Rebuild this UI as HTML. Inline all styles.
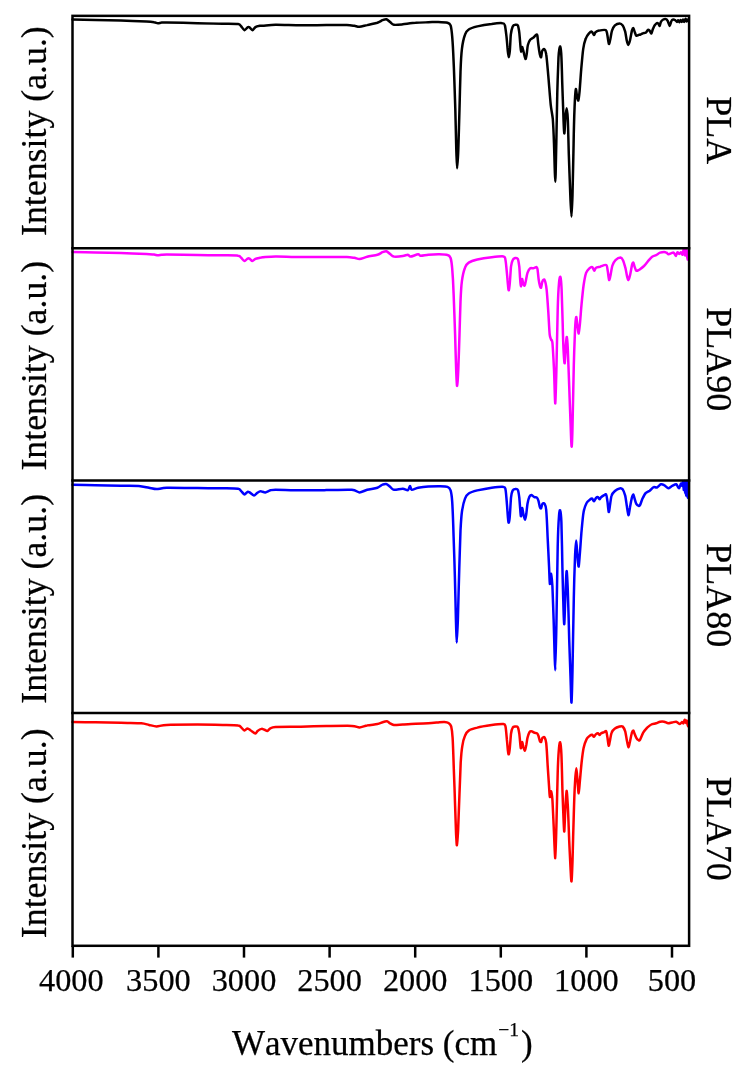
<!DOCTYPE html>
<html><head><meta charset="utf-8"><title>FTIR spectra</title>
<style>html,body{margin:0;padding:0;background:#fff}svg{display:block}</style></head>
<body>
<svg width="746" height="1070" viewBox="0 0 746 1070">
<rect width="746" height="1070" fill="#fff"/>
<path fill="none" stroke="#000000" stroke-width="2.5" stroke-linejoin="round" stroke-linecap="round" d="M72.5,19.6C75.6,19.6 89.0,19.8 95.5,20.0C101.9,20.1 114.2,20.4 120.9,20.6C127.7,20.8 142.0,21.3 146.4,21.5C150.8,21.7 152.5,22.0 154.1,22.3C155.6,22.5 156.9,23.2 157.9,23.3C158.9,23.3 160.5,22.7 161.7,22.6C162.9,22.5 162.0,22.5 166.8,22.5C171.5,22.6 189.9,23.0 197.4,23.2C204.8,23.3 217.4,23.5 222.8,23.7C228.3,23.8 235.7,23.7 238.1,24.0C240.6,24.4 240.3,25.5 241.2,26.3C242.0,27.2 243.6,30.0 244.5,30.2C245.3,30.3 246.9,27.7 247.5,27.4C248.2,27.0 248.9,27.0 249.6,27.4C250.2,27.7 251.6,30.2 252.4,30.2C253.2,30.1 254.4,27.7 255.4,27.1C256.4,26.5 259.0,26.0 260.0,25.8C261.0,25.7 260.7,26.0 262.7,25.8C264.8,25.7 270.4,24.9 275.5,24.8C280.6,24.7 294.2,25.3 300.9,25.3C307.7,25.4 320.3,25.1 326.4,25.1C332.5,25.0 343.1,25.0 346.8,25.1C350.5,25.2 352.7,25.6 354.4,25.8C356.1,26.1 357.8,27.0 359.5,26.8C361.2,26.7 364.8,25.6 367.2,25.1C369.5,24.5 375.3,23.4 377.4,22.8C379.4,22.1 381.3,20.7 382.5,20.2C383.6,19.8 385.3,19.0 386.3,19.2C387.3,19.4 389.1,21.3 390.1,22.0C391.1,22.8 392.2,24.5 393.9,24.8C395.6,25.1 399.9,24.6 402.8,24.3C405.7,24.0 412.2,23.0 415.6,22.8C419.0,22.5 425.3,22.4 428.3,22.3C431.3,22.2 435.7,21.9 438.2,21.9C440.8,22.0 445.8,22.3 447.5,22.7C449.1,23.2 449.9,23.6 450.6,25.4C451.2,27.3 451.8,31.9 452.2,36.7C452.6,41.5 453.2,51.8 453.6,61.4C454.1,71.0 454.9,96.9 455.3,108.7C455.6,120.5 456.1,141.9 456.3,149.8C456.6,157.8 456.9,168.3 457.1,168.3C457.4,168.3 458.0,157.8 458.3,149.8C458.6,141.9 459.2,119.1 459.5,108.7C459.8,98.3 460.2,79.6 460.5,71.7C460.8,63.7 461.3,54.0 461.9,49.1C462.5,44.1 464.0,37.3 465.0,34.7C465.9,32.1 467.0,30.6 468.7,29.5C470.3,28.4 474.2,27.2 477.3,26.4C480.4,25.7 488.3,24.4 491.7,24.0C495.0,23.5 500.6,23.0 502.4,23.2C504.2,23.3 504.3,23.6 504.9,25.4C505.4,27.2 506.1,33.3 506.5,36.7C506.9,40.2 507.5,48.4 507.8,51.1C508.1,53.9 508.5,57.3 508.8,57.3C509.1,57.3 509.5,54.1 509.8,51.1C510.1,48.1 510.5,38.0 510.8,34.7C511.2,31.4 512.1,27.8 512.7,26.4C513.3,25.1 514.5,24.9 515.2,24.8C515.8,24.7 517.3,24.4 517.8,25.4C518.4,26.5 518.9,29.7 519.3,32.6C519.6,35.5 520.3,44.4 520.5,47.0C520.7,49.6 520.9,52.1 521.1,52.1C521.3,52.1 521.8,47.1 522.1,47.0C522.4,46.9 522.9,49.5 523.4,51.1C523.8,52.7 525.0,58.5 525.4,58.9C525.9,59.3 526.3,56.1 526.7,54.2C527.0,52.3 527.4,46.9 527.9,45.0C528.4,43.0 529.4,40.8 530.2,39.8C530.9,38.9 532.4,38.4 533.2,37.8C534.1,37.1 535.8,34.9 536.3,34.7C536.9,34.4 537.1,34.3 537.4,35.7C537.6,37.1 538.1,42.5 538.4,45.0C538.7,47.4 539.5,52.6 539.8,54.2C540.2,55.8 540.8,57.7 541.1,57.3C541.4,56.9 541.7,52.2 542.1,51.1C542.5,50.0 543.6,48.7 544.2,49.1C544.7,49.5 545.7,50.6 546.2,54.2C546.8,57.8 547.7,69.1 548.3,75.8C548.9,82.5 550.1,98.8 550.7,104.6C551.3,110.3 552.3,113.8 552.8,119.0C553.2,124.2 553.7,135.3 554.0,143.6C554.3,152.0 555.0,181.7 555.3,181.7C555.6,181.7 556.0,155.6 556.3,143.6C556.6,131.7 557.0,103.8 557.3,92.2C557.6,80.7 558.2,63.4 558.5,57.3C558.9,51.2 559.6,47.1 560.0,46.6C560.3,46.0 560.9,48.5 561.2,53.2C561.5,57.9 562.0,74.0 562.2,82.0C562.5,89.9 563.0,105.9 563.3,112.8C563.5,119.6 564.0,132.5 564.3,133.4C564.6,134.2 565.0,122.3 565.3,119.0C565.6,115.6 566.2,108.3 566.6,108.3C566.9,108.3 567.5,112.9 567.8,119.0C568.1,125.0 568.5,143.8 568.8,153.9C569.2,164.1 569.9,186.7 570.3,195.0C570.6,203.4 571.2,216.6 571.5,216.6C571.8,216.6 572.2,204.8 572.5,195.0C572.8,185.3 573.3,155.4 573.6,143.6C573.8,131.8 574.3,113.9 574.6,106.6C574.9,99.4 575.5,90.5 575.8,89.2C576.1,87.8 576.7,94.8 577.0,96.3C577.4,97.9 578.0,101.0 578.3,100.5C578.6,99.9 579.1,96.3 579.5,92.2C579.9,88.1 580.7,75.4 581.2,69.6C581.7,63.9 582.6,53.2 583.2,49.1C583.8,45.0 584.9,40.8 585.7,38.8C586.4,36.7 587.9,34.6 588.8,33.6C589.6,32.7 591.2,31.4 591.8,31.6C592.5,31.8 593.4,35.0 593.9,35.1C594.4,35.2 594.9,32.8 595.5,32.2C596.2,31.6 597.7,30.8 599.0,30.6C600.4,30.3 604.7,29.6 605.8,30.1C606.9,30.7 606.9,32.8 607.3,34.7C607.7,36.5 608.5,43.4 608.9,43.9C609.3,44.5 609.9,40.6 610.4,38.8C610.8,37.0 611.4,32.3 612.0,30.6C612.6,28.8 613.9,26.4 614.9,25.4C615.9,24.5 618.6,23.4 619.6,23.4C620.6,23.4 621.9,24.3 622.7,25.4C623.4,26.5 624.6,29.5 625.2,31.6C625.7,33.6 626.4,39.1 626.8,40.8C627.2,42.6 627.8,45.0 628.2,45.0C628.6,45.0 629.4,42.8 629.9,40.8C630.4,38.9 631.5,32.3 631.9,30.6C632.4,28.9 633.0,28.0 633.4,28.1C633.7,28.2 634.2,30.6 634.6,31.6C635.0,32.6 635.7,35.3 636.3,35.7C636.9,36.1 638.6,34.8 639.1,34.7C639.6,34.5 639.5,35.0 640.0,34.8C640.5,34.6 642.5,33.4 643.2,33.2C644.0,32.9 645.0,33.2 645.6,32.8C646.3,32.3 647.5,30.2 648.0,29.9C648.6,29.7 649.2,30.3 649.7,30.7C650.1,31.2 650.8,33.8 651.3,33.6C651.7,33.3 652.4,30.3 652.9,29.1C653.4,28.0 654.3,25.9 654.9,25.1C655.4,24.3 656.4,23.3 656.9,23.1C657.4,22.9 658.1,23.5 658.5,23.9C658.9,24.3 659.4,26.2 659.7,25.9C660.0,25.6 660.4,22.8 660.9,21.9C661.4,21.0 662.6,19.9 663.3,19.5C664.0,19.1 665.6,18.9 666.1,19.1C666.7,19.3 667.3,20.2 667.8,21.1C668.2,22.0 669.3,25.9 669.8,25.9C670.2,25.9 670.9,21.9 671.4,21.1C671.8,20.2 672.4,19.6 673.0,19.5C673.5,19.4 674.9,20.0 675.4,20.3C675.9,20.6 676.6,21.9 677.0,21.9C677.4,21.9 677.9,20.2 678.2,20.3C678.5,20.3 679.1,22.4 679.4,22.3C679.7,22.2 680.3,19.9 680.6,19.9C680.9,19.8 681.5,21.9 681.8,21.9C682.2,21.8 682.7,19.5 683.0,19.5C683.4,19.5 683.9,22.0 684.2,21.9C684.6,21.8 685.1,18.7 685.5,18.7C685.8,18.6 686.3,21.4 686.7,21.5C687.0,21.6 687.7,19.7 687.9,19.5"/>
<path fill="none" stroke="#ff00ff" stroke-width="2.5" stroke-linejoin="round" stroke-linecap="round" d="M72.5,252.0C75.6,252.1 89.0,252.5 95.5,252.6C101.9,252.8 114.2,252.9 120.9,253.1C127.7,253.3 142.0,253.9 146.4,254.1C150.8,254.3 152.5,254.5 154.1,254.6C155.6,254.8 156.9,255.3 157.9,255.3C158.9,255.3 160.5,254.9 161.7,254.8C162.9,254.7 162.0,254.5 166.8,254.5C171.5,254.6 189.9,254.9 197.4,255.0C204.8,255.1 217.4,255.2 222.8,255.3C228.3,255.4 235.7,255.3 238.1,255.7C240.6,256.0 240.3,257.1 241.2,257.8C242.0,258.5 243.6,260.9 244.5,261.0C245.3,261.1 246.9,258.9 247.5,258.6C248.2,258.3 248.9,258.3 249.6,258.6C250.2,258.9 251.6,261.0 252.4,261.0C253.2,261.0 254.4,259.3 255.4,258.8C256.4,258.4 259.0,258.0 260.0,257.8C261.0,257.6 260.7,257.5 262.7,257.3C264.8,257.2 270.4,256.6 275.5,256.6C280.6,256.5 294.2,257.0 300.9,257.1C307.7,257.1 320.3,257.1 326.4,257.1C332.5,257.1 343.1,257.0 346.8,257.1C350.5,257.2 352.7,257.6 354.4,257.8C356.1,258.1 357.8,259.2 359.5,259.1C361.2,259.0 364.8,257.4 367.2,256.8C369.5,256.2 375.3,255.4 377.4,254.8C379.4,254.2 381.3,252.7 382.5,252.2C383.6,251.8 385.3,251.0 386.3,251.2C387.3,251.4 389.1,253.3 390.1,254.0C391.1,254.7 392.2,256.3 393.9,256.6C395.6,256.8 401.0,256.3 402.8,256.0C404.7,255.8 406.9,254.7 407.9,254.8C408.9,254.8 409.1,256.6 410.5,256.6C411.8,256.5 416.8,254.4 418.1,254.3C419.5,254.2 419.3,255.7 420.7,255.8C422.0,255.9 426.0,255.0 428.3,254.8C430.6,254.6 435.7,254.3 438.2,254.3C440.8,254.4 445.8,254.5 447.5,255.0C449.1,255.4 449.9,256.2 450.6,258.0C451.2,259.9 451.8,264.0 452.2,268.7C452.6,273.4 453.3,284.6 453.6,293.4C454.0,302.2 454.7,323.8 455.1,334.5C455.4,345.2 456.0,366.7 456.3,373.6C456.6,380.4 456.9,386.5 457.1,385.9C457.4,385.4 458.0,376.3 458.3,369.5C458.6,362.6 459.2,343.6 459.5,334.5C459.8,325.5 460.2,308.7 460.5,301.6C460.8,294.5 461.3,285.6 461.9,281.1C462.5,276.5 464.0,270.2 465.0,267.7C465.9,265.2 467.0,263.7 468.7,262.6C470.3,261.5 474.2,260.2 477.3,259.5C480.4,258.8 488.2,257.6 491.7,257.2C495.2,256.8 501.6,256.2 503.4,256.4C505.2,256.6 504.8,256.9 505.3,258.9C505.7,260.8 506.4,267.3 506.7,270.8C507.1,274.3 507.7,282.6 508.0,285.2C508.2,287.8 508.5,290.6 508.8,290.3C509.0,290.0 509.5,286.3 509.8,283.1C510.1,280.0 510.7,269.7 511.0,266.7C511.4,263.6 512.1,261.2 512.7,260.1C513.2,258.9 514.5,258.2 515.2,258.0C515.8,257.9 517.3,257.7 517.8,258.9C518.4,260.0 518.9,263.7 519.3,266.7C519.6,269.6 520.0,278.5 520.3,281.1C520.5,283.7 520.9,286.5 521.1,286.2C521.4,285.9 521.8,279.3 522.1,279.0C522.4,278.7 523.0,283.3 523.4,284.1C523.7,285.0 524.3,286.0 524.6,285.6C524.9,285.2 525.5,282.8 525.8,281.1C526.2,279.4 526.9,274.5 527.5,272.8C528.1,271.1 529.4,268.9 530.2,268.3C530.9,267.7 532.4,268.5 533.2,268.3C534.1,268.2 536.2,266.9 536.7,267.1C537.3,267.3 537.3,268.2 537.6,269.8C537.8,271.3 538.3,276.8 538.6,279.0C538.9,281.2 539.7,285.1 540.0,286.2C540.4,287.4 540.7,288.3 541.1,287.6C541.4,287.0 542.0,282.1 542.5,281.1C543.0,280.0 544.0,278.9 544.6,280.0C545.1,281.1 546.1,285.0 546.6,289.3C547.1,293.5 547.9,305.9 548.3,311.9C548.7,317.9 549.3,330.8 549.7,334.5C550.1,338.2 550.8,338.6 551.1,339.7C551.5,340.8 552.0,338.8 552.4,342.7C552.8,346.7 553.6,361.4 554.0,369.5C554.4,377.6 554.9,403.9 555.3,403.4C555.6,402.8 556.2,377.8 556.5,365.4C556.8,352.9 557.4,320.8 557.7,309.8C558.0,298.9 558.6,287.5 559.0,283.1C559.3,278.7 560.0,276.1 560.4,277.0C560.7,277.8 561.3,283.0 561.6,289.3C561.9,295.6 562.4,315.7 562.7,324.2C562.9,332.7 563.4,347.8 563.7,353.0C564.0,358.2 564.4,364.1 564.7,363.3C565.0,362.5 565.5,350.4 565.7,346.9C566.0,343.3 566.5,336.7 566.8,337.0C567.0,337.3 567.5,342.4 567.8,348.9C568.1,355.4 568.8,375.5 569.2,385.9C569.6,396.3 570.3,418.9 570.7,427.0C571.0,435.1 571.4,447.9 571.7,446.6C572.0,445.2 572.5,427.6 572.7,416.8C573.0,405.9 573.5,376.9 573.8,365.4C574.1,353.8 574.7,336.8 575.0,330.4C575.3,324.0 575.9,317.6 576.2,317.0C576.6,316.5 577.1,324.1 577.5,326.3C577.8,328.5 578.4,333.8 578.7,333.5C579.0,333.2 579.5,328.2 579.9,324.2C580.3,320.3 581.1,308.9 581.6,303.7C582.1,298.5 583.0,289.3 583.6,285.2C584.2,281.1 585.3,275.1 586.1,272.8C586.9,270.6 588.6,269.1 589.4,268.3C590.2,267.5 591.6,266.8 592.3,267.1C592.9,267.4 593.8,270.7 594.3,270.8C594.8,270.9 595.2,268.2 596.0,267.7C596.7,267.2 598.7,267.0 600.1,266.7C601.4,266.3 605.2,264.5 606.2,265.0C607.3,265.6 607.3,268.8 607.7,270.8C608.1,272.8 608.7,279.5 609.1,280.0C609.5,280.6 610.1,276.8 610.6,274.9C611.0,273.0 611.7,267.6 612.4,265.6C613.1,263.7 614.4,261.2 615.5,260.1C616.6,259.0 619.6,257.4 620.6,257.4C621.6,257.5 622.4,259.0 623.1,260.5C623.8,262.0 625.0,266.5 625.6,268.7C626.1,270.9 626.8,275.4 627.2,277.0C627.6,278.5 628.1,280.3 628.4,280.0C628.8,279.8 629.6,277.0 630.1,274.9C630.6,272.8 631.7,266.3 632.1,264.6C632.6,263.0 633.0,262.3 633.4,262.6C633.7,262.8 634.2,265.6 634.6,266.7C635.0,267.8 635.7,270.4 636.3,270.8C636.9,271.2 638.6,270.0 639.1,269.8C639.6,269.5 639.3,269.7 640.0,269.2C640.7,268.7 642.9,267.0 644.0,266.0C645.1,264.9 647.0,262.4 648.0,261.1C649.1,259.9 651.0,257.5 652.1,256.7C653.1,255.9 655.0,255.6 656.1,255.1C657.2,254.6 659.0,253.1 660.1,252.7C661.2,252.3 663.3,251.9 664.1,251.9C665.0,251.9 666.0,252.4 666.5,252.7C667.1,253.0 667.9,254.2 668.6,254.3C669.2,254.4 670.7,253.3 671.4,253.1C672.1,252.9 673.2,252.3 673.8,252.7C674.4,253.1 675.3,256.0 675.8,255.9C676.3,255.9 676.9,252.6 677.4,252.3C677.9,252.0 678.9,253.9 679.4,253.9C679.9,253.9 680.6,252.2 681.0,252.3C681.5,252.4 682.3,255.1 682.6,254.7C683.0,254.3 683.5,249.0 683.8,249.1C684.2,249.2 684.7,255.4 685.1,255.5C685.4,255.6 685.9,249.3 686.3,249.9C686.6,250.4 687.2,259.4 687.5,259.5C687.7,259.6 688.2,251.9 688.3,250.7"/>
<path fill="none" stroke="#0000ff" stroke-width="2.5" stroke-linejoin="round" stroke-linecap="round" d="M72.5,484.7C75.6,484.8 89.0,485.1 95.5,485.2C101.9,485.4 115.2,485.7 120.9,485.8C126.7,485.9 135.0,485.7 138.8,486.0C142.5,486.3 146.6,487.4 149.0,487.8C151.3,488.2 154.2,489.1 156.6,489.1C159.0,489.1 161.4,487.9 166.8,487.8C172.2,487.7 189.9,488.0 197.4,488.0C204.8,488.1 217.4,488.2 222.8,488.3C228.3,488.4 235.7,488.4 238.1,488.8C240.6,489.2 240.3,490.4 241.2,491.1C242.0,491.9 243.6,494.3 244.5,494.4C245.3,494.5 246.9,492.1 247.5,491.9C248.2,491.6 248.7,491.9 249.6,492.4C250.4,492.9 252.9,495.4 253.9,495.4C254.9,495.5 256.4,493.4 257.2,492.9C258.0,492.3 259.4,491.6 260.0,491.4C260.6,491.2 260.8,491.2 261.5,491.4C262.2,491.5 264.1,492.5 265.3,492.4C266.5,492.2 269.0,490.7 270.4,490.3C271.7,490.0 271.4,489.8 275.5,489.8C279.5,489.8 294.2,490.3 300.9,490.3C307.7,490.4 319.6,490.2 326.4,490.1C333.2,490.0 347.5,489.5 351.9,489.8C356.3,490.1 357.5,492.4 359.5,492.4C361.6,492.4 364.8,490.4 367.2,489.8C369.5,489.2 375.3,488.5 377.4,487.8C379.4,487.1 381.3,485.2 382.5,484.7C383.6,484.2 385.3,483.7 386.3,484.0C387.3,484.2 389.1,486.0 390.1,486.8C391.1,487.6 392.2,489.6 393.9,489.8C395.6,490.1 401.0,488.7 402.8,488.8C404.7,488.9 407.0,490.7 407.9,490.3C408.9,490.0 409.4,486.1 410.0,486.0C410.5,485.9 410.7,489.6 411.7,489.8C412.8,490.1 415.9,488.2 418.1,487.8C420.3,487.4 425.6,486.7 428.3,486.5C431.0,486.3 435.7,486.3 438.2,486.3C440.8,486.4 445.8,486.4 447.5,486.9C449.1,487.5 449.9,488.4 450.6,490.4C451.2,492.4 451.8,495.6 452.2,501.7C452.6,507.9 453.3,526.5 453.6,536.7C454.0,546.8 454.6,566.8 454.9,577.8C455.2,588.8 455.7,610.3 455.9,618.9C456.2,627.5 456.5,642.6 456.7,642.6C457.0,642.6 457.5,628.9 457.9,618.9C458.2,608.9 458.9,579.3 459.3,567.5C459.7,555.7 460.2,537.9 460.5,530.5C460.9,523.1 461.3,516.3 461.9,512.0C462.5,507.8 464.0,501.1 465.0,498.6C465.9,496.2 467.0,494.6 468.7,493.5C470.3,492.4 474.2,491.2 477.3,490.4C480.4,489.7 488.2,488.2 491.7,487.7C495.2,487.3 501.6,486.7 503.4,486.9C505.3,487.1 505.0,487.1 505.5,489.4C506.0,491.6 506.6,499.9 506.9,503.8C507.3,507.6 507.7,515.7 508.0,518.2C508.2,520.7 508.5,523.0 508.8,522.7C509.0,522.4 509.5,519.5 509.8,516.1C510.1,512.8 510.7,501.0 511.0,497.6C511.4,494.2 512.1,491.6 512.7,490.4C513.2,489.3 514.5,489.1 515.2,489.0C515.8,488.9 517.3,488.7 517.8,489.8C518.4,491.0 518.9,494.5 519.3,497.6C519.6,500.7 520.3,510.6 520.5,513.0C520.7,515.5 520.9,516.8 521.1,516.1C521.3,515.4 521.8,508.2 522.1,507.9C522.4,507.6 523.0,512.5 523.4,514.1C523.8,515.7 524.6,519.8 525.0,519.8C525.4,519.8 525.9,516.2 526.3,514.1C526.6,511.9 527.1,506.1 527.5,503.8C527.9,501.5 529.0,497.7 529.5,496.6C530.1,495.4 531.0,495.1 531.6,495.1C532.2,495.2 533.6,496.9 534.3,497.2C535.0,497.5 536.4,497.1 536.9,497.6C537.5,498.1 538.0,499.5 538.4,500.7C538.8,501.9 539.5,505.9 539.8,506.9C540.2,507.9 540.7,508.7 541.1,508.3C541.4,507.9 542.0,504.4 542.5,503.8C543.0,503.2 544.1,503.0 544.6,503.8C545.1,504.6 545.8,505.6 546.2,510.0C546.6,514.3 547.3,529.0 547.6,536.7C548.0,544.4 548.8,561.2 549.1,567.5C549.4,573.8 549.6,583.1 549.9,584.0C550.2,584.8 550.8,573.4 551.1,573.7C551.5,574.0 552.0,580.0 552.4,586.0C552.7,592.1 553.2,607.7 553.6,618.9C554.0,630.2 554.9,670.3 555.3,670.3C555.6,670.3 556.2,635.4 556.5,618.9C556.8,602.5 557.4,560.7 557.7,547.0C558.0,533.3 558.6,521.0 559.0,516.1C559.3,511.2 559.9,509.5 560.2,510.4C560.5,511.2 561.1,514.7 561.4,522.3C561.7,529.9 562.2,556.0 562.4,567.5C562.7,579.0 563.2,601.1 563.5,608.6C563.7,616.2 564.1,625.4 564.3,624.1C564.5,622.7 565.0,605.4 565.3,598.4C565.6,591.3 566.2,572.3 566.6,571.2C566.9,570.1 567.4,581.0 567.8,590.1C568.2,599.2 568.9,628.0 569.2,639.5C569.6,651.0 570.2,668.1 570.5,676.5C570.8,684.9 571.2,703.4 571.5,702.6C571.8,701.8 572.2,684.2 572.5,670.3C572.8,656.4 573.4,613.4 573.8,598.4C574.1,583.3 574.7,565.0 575.0,557.2C575.3,549.5 575.9,540.4 576.2,540.4C576.6,540.4 577.1,553.8 577.5,557.2C577.8,560.7 578.4,567.0 578.7,566.5C579.0,565.9 579.5,557.9 579.9,553.1C580.3,548.3 581.1,536.0 581.6,530.5C582.1,525.0 582.9,515.7 583.6,512.0C584.3,508.3 585.9,504.4 586.7,502.8C587.5,501.1 589.1,500.2 589.8,499.7C590.5,499.1 591.7,498.4 592.3,498.6C592.8,498.9 593.4,501.4 593.9,501.3C594.4,501.2 595.4,498.6 596.0,498.0C596.5,497.5 597.5,497.0 598.0,497.2C598.5,497.4 599.0,499.3 599.5,499.3C599.9,499.3 600.5,497.8 601.1,497.2C601.7,496.7 603.5,495.5 604.2,495.1C604.9,494.8 605.8,493.7 606.2,494.5C606.7,495.4 607.1,499.4 607.5,501.7C607.8,504.1 608.4,511.5 608.7,512.0C609.0,512.6 609.6,508.0 609.9,505.8C610.3,503.6 610.9,497.5 611.6,495.6C612.2,493.6 613.8,492.0 614.9,491.0C615.9,490.1 618.6,488.6 619.6,488.4C620.6,488.1 621.9,488.4 622.7,489.4C623.4,490.4 624.6,493.4 625.2,495.6C625.7,497.8 626.4,503.2 626.8,505.8C627.2,508.4 628.0,514.8 628.4,515.1C628.9,515.4 629.4,510.2 629.9,507.9C630.3,505.6 631.5,499.4 631.9,497.6C632.4,495.8 633.0,494.4 633.4,494.5C633.7,494.7 634.2,497.4 634.6,498.6C635.0,499.9 635.7,502.8 636.3,503.8C636.8,504.7 638.2,505.6 638.7,505.8C639.2,506.0 639.5,506.1 640.0,505.2C640.5,504.3 641.7,500.4 642.4,498.8C643.2,497.2 644.7,494.2 645.6,493.1C646.6,492.1 648.6,491.5 649.7,490.7C650.7,489.9 652.7,487.5 653.7,487.1C654.6,486.7 655.9,487.9 656.9,487.5C657.9,487.1 660.0,484.6 660.9,484.3C661.9,484.0 663.2,484.6 664.1,485.1C665.1,485.6 667.1,488.2 668.2,488.3C669.2,488.4 671.1,486.4 672.2,485.9C673.3,485.4 675.3,484.0 676.2,484.3C677.1,484.6 678.4,488.4 679.0,488.3C679.7,488.2 680.6,483.8 681.0,483.5C681.5,483.2 682.0,486.1 682.2,485.9C682.5,485.7 682.8,481.3 683.0,481.9C683.3,482.4 683.7,490.0 683.8,489.9C684.0,489.8 684.3,480.6 684.5,481.1C684.7,481.5 684.9,493.1 685.1,493.1C685.2,493.2 685.5,481.1 685.7,481.5C685.9,481.8 686.1,495.6 686.3,495.5C686.4,495.5 686.7,480.7 686.9,481.1C687.1,481.4 687.3,498.0 687.5,498.0C687.6,498.0 687.9,482.2 688.0,481.1C688.2,479.9 688.4,488.0 688.4,489.1"/>
<path fill="none" stroke="#ff0000" stroke-width="2.5" stroke-linejoin="round" stroke-linecap="round" d="M72.5,722.1C75.6,722.1 89.0,722.2 95.5,722.3C101.9,722.4 114.8,722.7 120.9,722.8C127.1,723.0 137.6,723.1 141.3,723.3C145.1,723.6 146.9,724.5 149.0,724.9C151.0,725.3 154.2,726.4 156.6,726.4C159.0,726.4 161.4,725.1 166.8,724.9C172.2,724.6 189.9,724.6 197.4,724.6C204.8,724.6 217.4,724.8 222.8,724.9C228.3,725.0 235.7,725.0 238.1,725.4C240.6,725.7 240.3,726.7 241.2,727.4C242.0,728.1 243.6,730.3 244.5,730.5C245.3,730.6 246.7,728.4 247.5,728.4C248.4,728.4 249.8,729.8 250.8,730.5C251.9,731.2 254.5,733.5 255.4,733.5C256.3,733.6 256.8,731.6 257.6,731.0C258.4,730.4 260.6,729.1 261.5,728.9C262.3,728.7 263.2,729.2 264.0,729.5C264.8,729.7 266.5,731.1 267.3,731.0C268.2,730.8 269.3,729.0 270.4,728.4C271.5,727.9 271.4,727.1 275.5,726.9C279.5,726.7 294.2,726.8 300.9,726.7C307.7,726.5 319.6,726.2 326.4,726.1C333.2,726.0 347.5,725.7 351.9,725.9C356.3,726.1 357.5,727.5 359.5,727.4C361.6,727.3 364.8,725.8 367.2,725.4C369.5,724.9 375.3,724.5 377.4,724.1C379.4,723.7 381.2,722.7 382.5,722.3C383.7,721.9 386.0,721.2 387.0,721.3C388.1,721.4 389.2,722.9 390.1,723.3C391.0,723.8 392.2,724.7 393.9,724.9C395.6,725.0 399.9,724.7 402.8,724.6C405.7,724.5 412.2,724.0 415.6,723.8C419.0,723.7 425.3,723.5 428.3,723.3C431.3,723.1 436.1,722.6 438.2,722.4C440.4,722.2 443.0,721.9 444.4,722.0C445.8,722.1 447.6,722.4 448.5,723.0C449.4,723.6 450.6,724.6 451.2,726.5C451.7,728.5 452.3,732.2 452.6,737.8C453.0,743.5 453.5,759.6 453.8,768.7C454.2,777.7 454.8,796.9 455.1,805.7C455.4,814.5 455.9,829.2 456.1,834.5C456.4,839.7 456.7,845.7 456.9,845.2C457.2,844.6 457.7,837.3 458.1,830.4C458.4,823.4 459.1,802.4 459.5,793.3C459.9,784.3 460.4,768.8 460.7,762.5C461.1,756.2 461.7,749.6 462.3,746.1C462.8,742.5 464.1,737.8 465.0,735.8C465.8,733.7 467.0,731.7 468.7,730.6C470.3,729.5 474.2,728.3 477.3,727.6C480.4,726.8 488.2,725.6 491.7,725.1C495.2,724.6 501.6,723.9 503.4,724.1C505.3,724.3 505.0,724.4 505.5,726.5C506.0,728.6 506.6,736.6 506.9,739.9C507.3,743.2 507.7,749.3 508.0,751.2C508.2,753.1 508.5,754.7 508.8,754.3C509.0,753.9 509.5,750.9 509.8,748.1C510.1,745.4 510.7,736.5 511.0,733.7C511.4,731.0 512.1,728.5 512.7,727.6C513.2,726.6 514.5,726.6 515.2,726.5C515.8,726.5 517.3,726.2 517.8,727.1C518.4,728.1 518.9,731.2 519.3,733.7C519.6,736.2 520.3,744.1 520.5,746.1C520.7,748.0 520.9,748.7 521.1,748.1C521.3,747.6 521.8,742.1 522.1,742.0C522.4,741.8 523.0,745.9 523.4,747.1C523.8,748.2 524.6,750.9 525.0,750.6C525.4,750.3 525.9,746.7 526.3,745.0C526.6,743.3 527.1,739.6 527.5,737.8C527.9,736.1 529.0,733.0 529.5,732.1C530.1,731.2 531.0,731.2 531.6,731.3C532.2,731.3 533.6,732.4 534.3,732.7C535.0,733.0 536.4,732.9 536.9,733.3C537.5,733.7 538.0,734.8 538.4,735.8C538.8,736.8 539.5,740.1 539.8,740.9C540.2,741.7 540.7,742.4 541.1,742.0C541.4,741.5 542.0,738.4 542.5,737.8C543.0,737.2 544.1,736.7 544.6,737.4C545.1,738.1 545.8,739.4 546.2,743.0C546.6,746.6 547.3,758.7 547.6,764.6C548.0,770.5 548.8,782.8 549.1,787.2C549.4,791.5 549.6,796.5 549.9,797.0C550.2,797.6 550.8,791.0 551.1,791.3C551.5,791.6 552.0,795.1 552.4,799.5C552.7,803.9 553.2,816.4 553.6,824.2C554.0,832.0 554.9,858.4 555.3,858.1C555.6,857.8 556.2,833.5 556.5,822.1C556.8,810.8 557.4,782.7 557.7,772.8C558.0,762.9 558.6,752.2 559.0,748.1C559.3,744.1 559.9,741.5 560.2,742.4C560.5,743.2 561.1,748.0 561.4,754.3C561.7,760.5 562.2,780.7 562.4,789.2C562.7,797.7 563.2,812.4 563.5,818.0C563.7,823.6 564.1,832.5 564.3,831.4C564.5,830.3 565.0,815.2 565.3,809.8C565.6,804.4 566.2,791.4 566.6,790.9C566.9,790.3 567.4,799.1 567.8,805.7C568.2,812.3 568.9,832.4 569.2,840.6C569.6,848.9 570.2,861.9 570.5,867.4C570.8,872.8 571.2,882.2 571.5,881.3C571.8,880.5 572.2,870.2 572.5,861.2C572.8,852.2 573.4,824.3 573.8,813.9C574.1,803.5 574.6,789.2 575.0,783.1C575.3,777.0 576.1,768.3 576.4,768.3C576.8,768.3 577.4,779.7 577.7,783.1C578.0,786.4 578.4,793.6 578.7,793.3C579.0,793.1 579.5,785.1 579.9,781.0C580.3,776.9 581.1,766.9 581.6,762.5C582.1,758.1 582.9,751.3 583.6,748.1C584.3,745.0 585.9,740.5 586.7,738.9C587.5,737.2 589.1,736.3 589.8,735.8C590.5,735.2 591.7,734.6 592.3,734.8C592.8,734.9 593.4,736.9 593.9,736.8C594.4,736.7 595.4,734.6 596.0,734.1C596.5,733.7 597.5,733.2 598.0,733.3C598.5,733.4 599.0,735.0 599.5,735.0C599.9,735.0 600.5,733.7 601.1,733.3C601.7,732.9 603.5,732.4 604.2,732.1C604.9,731.8 605.8,730.5 606.2,731.3C606.7,732.0 607.1,735.9 607.5,737.8C607.8,739.8 608.4,745.2 608.7,745.7C609.0,746.1 609.6,742.6 609.9,740.9C610.3,739.2 610.9,734.3 611.6,732.7C612.2,731.1 613.8,729.4 614.9,728.6C615.9,727.8 618.6,726.8 619.6,726.5C620.6,726.3 621.9,725.9 622.7,726.5C623.4,727.2 624.6,729.5 625.2,731.3C625.7,733.0 626.4,737.8 626.8,739.9C627.2,742.0 628.0,746.8 628.4,747.1C628.9,747.4 629.4,743.9 629.9,742.0C630.3,740.0 631.5,734.2 631.9,732.7C632.4,731.2 633.0,730.5 633.4,730.6C633.7,730.8 634.2,732.8 634.6,733.7C635.0,734.7 635.7,737.0 636.3,737.8C636.8,738.7 638.2,740.0 638.7,740.3C639.2,740.6 639.4,740.8 640.0,739.8C640.6,738.8 642.3,734.2 643.2,732.6C644.2,731.0 646.2,728.8 647.2,727.7C648.3,726.7 650.1,725.1 651.3,724.5C652.4,723.9 654.9,723.7 656.1,723.3C657.3,722.9 659.0,721.9 660.1,721.7C661.2,721.5 663.1,721.5 664.1,721.7C665.2,721.9 667.1,723.2 668.2,723.3C669.2,723.4 671.1,722.7 672.2,722.5C673.3,722.3 675.2,721.5 676.2,721.7C677.2,721.9 679.1,724.1 679.8,724.1C680.6,724.2 681.4,722.2 681.8,722.1C682.3,722.0 683.1,723.6 683.4,723.3C683.8,723.0 684.3,719.8 684.7,719.7C685.0,719.6 685.6,722.8 685.9,722.9C686.1,723.0 686.4,720.1 686.7,720.5C686.9,720.9 687.7,726.0 687.9,726.1C688.1,726.2 688.2,722.0 688.3,721.3"/>
<g stroke="#000" stroke-width="2.5" fill="none" stroke-linecap="square">
<rect x="72.5" y="15.85" width="616.6" height="929.9499999999999"/>
<line x1="72.5" y1="248.3" x2="689.1" y2="248.3"/>
<line x1="72.5" y1="480.5" x2="689.1" y2="480.5"/>
<line x1="72.5" y1="713.0" x2="689.1" y2="713.0"/>
<line x1="72.8" y1="945.8" x2="72.8" y2="957.6" stroke-linecap="butt"/>
<line x1="158.4" y1="945.8" x2="158.4" y2="957.6" stroke-linecap="butt"/>
<line x1="244.0" y1="945.8" x2="244.0" y2="957.6" stroke-linecap="butt"/>
<line x1="329.6" y1="945.8" x2="329.6" y2="957.6" stroke-linecap="butt"/>
<line x1="415.2" y1="945.8" x2="415.2" y2="957.6" stroke-linecap="butt"/>
<line x1="500.8" y1="945.8" x2="500.8" y2="957.6" stroke-linecap="butt"/>
<line x1="586.4" y1="945.8" x2="586.4" y2="957.6" stroke-linecap="butt"/>
<line x1="672.0" y1="945.8" x2="672.0" y2="957.6" stroke-linecap="butt"/>
</g>
<g font-family="'Liberation Serif', serif" font-size="32.3" text-anchor="middle" fill="#000" stroke="#000" stroke-width="0.25" style="font-kerning:none">
<text x="71.3" y="990.5">4000</text>
<text x="158.4" y="990.5">3500</text>
<text x="244.0" y="990.5">3000</text>
<text x="329.6" y="990.5">2500</text>
<text x="415.2" y="990.5">2000</text>
<text x="500.8" y="990.5">1500</text>
<text x="586.4" y="990.5">1000</text>
<text x="672.0" y="990.5">500</text>
</g>
<g font-family="'Liberation Serif', serif" font-size="35.8" fill="#000" stroke="#000" stroke-width="0.25" style="font-kerning:none">
<text transform="translate(46.4,131.1) rotate(-90)" text-anchor="middle">Intensity (a.u.)</text>
<text transform="translate(46.4,365.7) rotate(-90)" text-anchor="middle">Intensity (a.u.)</text>
<text transform="translate(46.4,598.8) rotate(-90)" text-anchor="middle">Intensity (a.u.)</text>
<text transform="translate(46.4,833.3) rotate(-90)" text-anchor="middle">Intensity (a.u.)</text>
</g>
<g font-family="'Liberation Serif', serif" font-size="36" fill="#000" stroke="#000" stroke-width="0.25" style="font-kerning:none">
<text transform="translate(707.2,130.2) rotate(90)" text-anchor="middle">PLA</text>
<text transform="translate(707.2,359.2) rotate(90)" text-anchor="middle">PLA90</text>
<text transform="translate(707.2,595.3) rotate(90)" text-anchor="middle">PLA80</text>
<text transform="translate(707.2,828.7) rotate(90)" text-anchor="middle">PLA70</text>
</g>
<text x="231.9" y="1055.3" font-family="'Liberation Serif', serif" font-size="35" fill="#000" stroke="#000" stroke-width="0.25" style="font-kerning:none">Wavenumbers (cm<tspan font-size="19.5" dy="-19.4" dx="1">−1</tspan><tspan dy="19.4" dx="2">)</tspan></text>
</svg>
</body></html>
